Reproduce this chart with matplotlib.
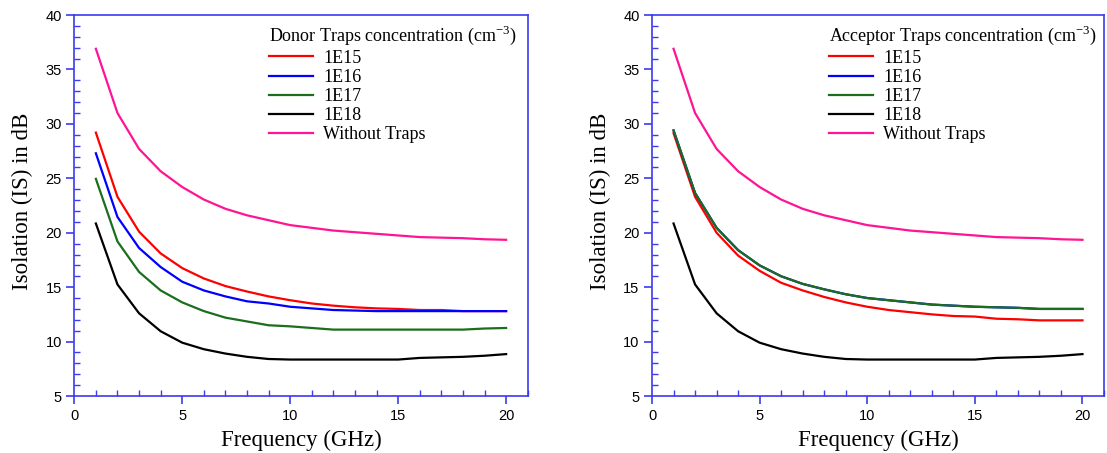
import numpy as np
import matplotlib
matplotlib.use("Agg")
import matplotlib.pyplot as plt
from matplotlib.ticker import MultipleLocator

# ── data ───────────────────────────────────────────────────────
freq = list(range(1, 21))  # GHz

no_traps = [36.9, 31.0, 27.7, 25.65, 24.2, 23.05, 22.2, 21.6, 21.15, 20.7,
            20.45, 20.2, 20.05, 19.9, 19.75, 19.6, 19.55, 19.5, 19.4, 19.35]

donor_1e15 = [29.2, 23.3, 20.1, 18.1, 16.75, 15.8, 15.1, 14.6, 14.15, 13.8,
              13.5, 13.3, 13.15, 13.05, 13.0, 12.9, 12.9, 12.8, 12.8, 12.8]
donor_1e16 = [27.3, 21.45, 18.6, 16.85, 15.5, 14.7, 14.15, 13.7, 13.5, 13.2,
              13.05, 12.9, 12.85, 12.8, 12.8, 12.8, 12.8, 12.8, 12.8, 12.8]
donor_1e17 = [24.95, 19.2, 16.4, 14.7, 13.6, 12.8, 12.2, 11.85, 11.5, 11.4,
              11.25, 11.1, 11.1, 11.1, 11.1, 11.1, 11.1, 11.1, 11.2, 11.25]
donor_1e18 = [20.85, 15.25, 12.6, 10.95, 9.9, 9.3, 8.9, 8.6, 8.4, 8.35,
              8.35, 8.35, 8.35, 8.35, 8.35, 8.5, 8.55, 8.6, 8.7, 8.85]

acc_1e15 = [29.15, 23.3, 20.0, 17.9, 16.5, 15.4, 14.7, 14.1, 13.6, 13.2,
            12.9, 12.7, 12.5, 12.35, 12.3, 12.1, 12.05, 11.95, 11.95, 11.95]
acc_1e16 = [29.4, 23.65, 20.45, 18.4, 17.0, 16.0, 15.3, 14.8, 14.35, 14.0,
            13.8, 13.6, 13.4, 13.3, 13.2, 13.15, 13.1, 13.0, 13.0, 13.0]
acc_1e17 = [29.4, 23.65, 20.45, 18.4, 17.0, 16.0, 15.3, 14.8, 14.35, 14.0,
            13.8, 13.6, 13.4, 13.3, 13.2, 13.15, 13.1, 13.0, 13.0, 13.0]
acc_1e18 = donor_1e18

labels = ["1E15", "1E16", "1E17", "1E18", "Without Traps"]
colors = ["#ff0000", "#0000ff", "#1b6e1b", "#000000", "#ff1493"]

SPINE = "#3b3bf0"
SERIF = "Liberation Serif"
SANS = "Liberation Sans"

plt.rcParams["mathtext.fontset"] = "custom"
plt.rcParams["mathtext.rm"] = SERIF


def style_axes(ax):
    ax.set_xlim(0, 21)
    ax.set_ylim(5, 40)
    ax.xaxis.set_major_locator(MultipleLocator(5))
    ax.xaxis.set_minor_locator(MultipleLocator(1))
    ax.yaxis.set_major_locator(MultipleLocator(5))
    ax.yaxis.set_minor_locator(MultipleLocator(1))
    ax.tick_params(which="major", direction="out", length=6, width=1.2,
                   color=SPINE, labelsize=10.5, pad=3)
    ax.tick_params(which="minor", direction="in", length=4, width=1.0,
                   color=SPINE)
    for lab in ax.get_xticklabels() + ax.get_yticklabels():
        lab.set_fontfamily(SANS)
    for sp in ax.spines.values():
        sp.set_color(SPINE)
        sp.set_linewidth(1.2)
    ax.set_xlabel("Frequency (GHz)", family=SERIF, fontsize=16.5, labelpad=5)
    ax.set_ylabel("Isolation (IS) in dB", family=SERIF, fontsize=16.5)
    ax.yaxis.set_label_coords(-0.09, 0.51)


fig = plt.figure(figsize=(11.07, 4.53), dpi=100)
ax1 = fig.add_axes([0.0671, 0.1258, 0.4096, 0.841])
ax2 = fig.add_axes([0.589, 0.1258, 0.4083, 0.841])

panels = [
    (ax1, [donor_1e15, donor_1e16, donor_1e17, donor_1e18, no_traps],
     r"Donor Traps concentration (cm$^{\mathrm{-3}}$)", 0.418),
    (ax2, [acc_1e15, acc_1e16, acc_1e17, acc_1e18, no_traps],
     r"Acceptor Traps concentration (cm$^{\mathrm{-3}}$)", 0.380),
]

for ax, series, title, lx in panels:
    for ys, lab, c in zip(series, labels, colors):
        ax.plot(freq, ys, color=c, lw=1.6, label=lab)
    style_axes(ax)
    ax.legend(loc="upper left", bbox_to_anchor=(lx, 0.99),
              frameon=False, title=title, alignment="left",
              prop={"family": SERIF, "size": 13},
              title_fontproperties={"family": SERIF, "size": 13},
              handlelength=2.45, handletextpad=0.55, labelspacing=0.12,
              borderpad=0.3, borderaxespad=0)

fig.savefig("out.png", dpi=100)
